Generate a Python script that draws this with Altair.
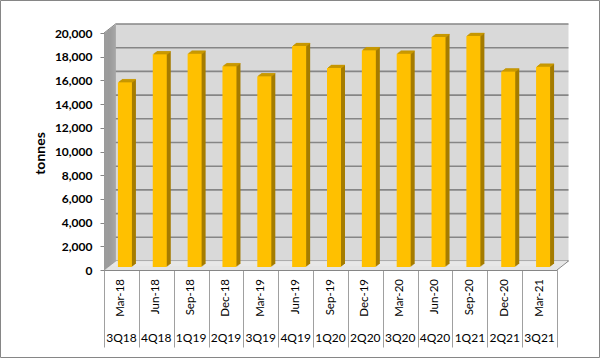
import altair as alt
import pandas as pd

# ---- data ----
dates = ["Mar-18", "Jun-18", "Sep-18", "Dec-18", "Mar-19", "Jun-19", "Sep-19",
         "Dec-19", "Mar-20", "Jun-20", "Sep-20", "Dec-20", "Mar-21"]
quarters = ["3Q18", "4Q18", "1Q19", "2Q19", "3Q19", "4Q19", "1Q20",
            "2Q20", "3Q20", "4Q20", "1Q21", "2Q21", "3Q21"]
tonnes = [15600, 17950, 18000, 16950, 16100, 18650, 16800,
          18300, 18000, 19400, 19500, 16500, 16900]
y_ticks = [0, 2000, 4000, 6000, 8000, 10000, 12000, 14000, 16000, 18000, 20000]
y_min, y_max = 0, 20000

# ---- styling (pixels) ----
W, H = 453, 237          # front plane of the plot
DX, DY = 11.5, 9.0       # depth of the 3-D walls
BX, BY = 3.5, 3.0        # offset of the bar front faces
BW = 14                  # bar width
EXT = [4, 3, 2, 1]       # extrusion steps of the bars
FONT = "Lato"
GRID = "#868686"

df = pd.DataFrame({"date": dates, "quarter": quarters, "tonnes": tonnes})
grid_df = pd.DataFrame({"v": y_ticks})
wall_df = pd.DataFrame({"lo": [y_min], "hi": [y_max]})

xscale = alt.Scale(domain=dates, paddingInner=0, paddingOuter=0)
yscale = alt.Scale(domain=[y_min, y_max], nice=False)

xaxis = alt.Axis(title=None, labels=False, ticks=True, tickBand="extent",
                 tickSize=77, tickColor="#a0a0a0", tickWidth=1,
                 domainColor=GRID, domainWidth=1)
yaxis = alt.Axis(title="tonnes", values=y_ticks, format=",.0f", grid=False,
                 tickSize=4, tickColor=GRID, domainColor=GRID,
                 labelFont=FONT, labelFontWeight="bold", labelFontSize=12,
                 labelColor="black", labelPadding=8,
                 titleFont=FONT, titleFontSize=14, titleFontWeight="bold",
                 titleColor="black", titleX=-64, titleY=120, titleAngle=270,
                 titleAlign="center", titleBaseline="middle")

X = alt.X("date:N", scale=xscale, axis=xaxis)


def Y(field):
    return alt.Y(field, scale=yscale, axis=yaxis)


layers = []

# back wall
layers.append(alt.Chart(wall_df).mark_rect(
    color="#d9d9d9", xOffset=DX, x2Offset=DX, yOffset=-DY, y2Offset=-DY
).encode(x=alt.value(0), x2=alt.value(W), y=Y("hi:Q"), y2="lo:Q"))

# back wall gridlines
layers.append(alt.Chart(grid_df).mark_rule(
    color=GRID, strokeWidth=1.6, xOffset=DX, x2Offset=DX, yOffset=-DY
).encode(x=alt.value(0), x2=alt.value(W), y=Y("v:Q")))

# floor (thin slanted strip)
nfl = 10
for j in range(nfl):
    ox = j * DX / nfl
    oy = -j * DY / nfl
    layers.append(alt.Chart(wall_df).mark_rect(
        color="#e4e4e4", xOffset=ox, x2Offset=ox,
        yOffset=oy, y2Offset=oy - DY / nfl - 0.3
    ).encode(x=alt.value(0), x2=alt.value(W), y=Y("lo:Q"), y2="lo:Q"))

# left side wall
nsw = 12
for i in range(nsw):
    ox = i * DX / nsw
    oy = -i * DY / nsw
    layers.append(alt.Chart(wall_df).mark_rect(
        color="#9c9c9c", xOffset=ox, x2Offset=ox + DX / nsw + 0.3,
        yOffset=oy, y2Offset=oy
    ).encode(x=alt.value(0), x2=alt.value(0), y=Y("hi:Q"), y2="lo:Q"))

# wall edges
layers.append(alt.Chart(wall_df).mark_rule(
    color=GRID, strokeWidth=1, x2Offset=DX, y2Offset=-DY
).encode(x=alt.value(W), x2=alt.value(W), y=Y("lo:Q"), y2="lo:Q"))
layers.append(alt.Chart(wall_df).mark_rule(
    color=GRID, strokeWidth=1, x2Offset=DX, y2Offset=-DY
).encode(x=alt.value(0), x2=alt.value(0), y=Y("hi:Q"), y2="hi:Q"))

# bar extrusion (side faces)
for k in EXT:
    ox = BX + k
    oy = -BY - 0.75 * k
    layers.append(alt.Chart(df).mark_bar(
        width=BW, color="#a57c00", xOffset=ox, x2Offset=ox,
        yOffset=oy, y2Offset=oy
    ).encode(x=X, y=Y("tonnes:Q")))

# bar top faces
for k in EXT:
    ox = BX + k
    oy = -BY - 0.75 * k + 0.4
    layers.append(alt.Chart(df).mark_tick(
        size=BW, thickness=1.2, color="#d29f00", xOffset=ox, yOffset=oy
    ).encode(x=X, y=Y("tonnes:Q")))

# bar front faces
layers.append(alt.Chart(df).mark_bar(
    width=BW, color="#ffc000", xOffset=BX, x2Offset=BX,
    yOffset=-BY, y2Offset=-BY
).encode(x=X, y=Y("tonnes:Q")))

# category labels
layers.append(alt.Chart(df).mark_text(
    angle=270, align="right", baseline="middle", font=FONT, fontSize=11.5,
    color="black"
).encode(x=X, y=alt.value(246), text="date:N"))
layers.append(alt.Chart(df).mark_text(
    align="center", baseline="middle", font=FONT, fontSize=12, color="black"
).encode(x=X, y=alt.value(305), text="quarter:N"))

# outer frame of the chart
layers.append(alt.Chart(wall_df).mark_rect(
    filled=False, color="#868686", strokeWidth=1
).encode(x=alt.value(-103.5), x2=alt.value(495.5),
         y=alt.value(-32.5), y2=alt.value(324.5)))

chart = alt.layer(*layers).properties(
    width=W, height=H,
    autosize=alt.AutoSizeParams(type="none"),
    padding={"left": 104, "top": 33, "right": 43, "bottom": 88},
    background="white",
).configure_view(stroke=None)

chart.save("out.html", embed_options={"renderer": "svg", "actions": False})
